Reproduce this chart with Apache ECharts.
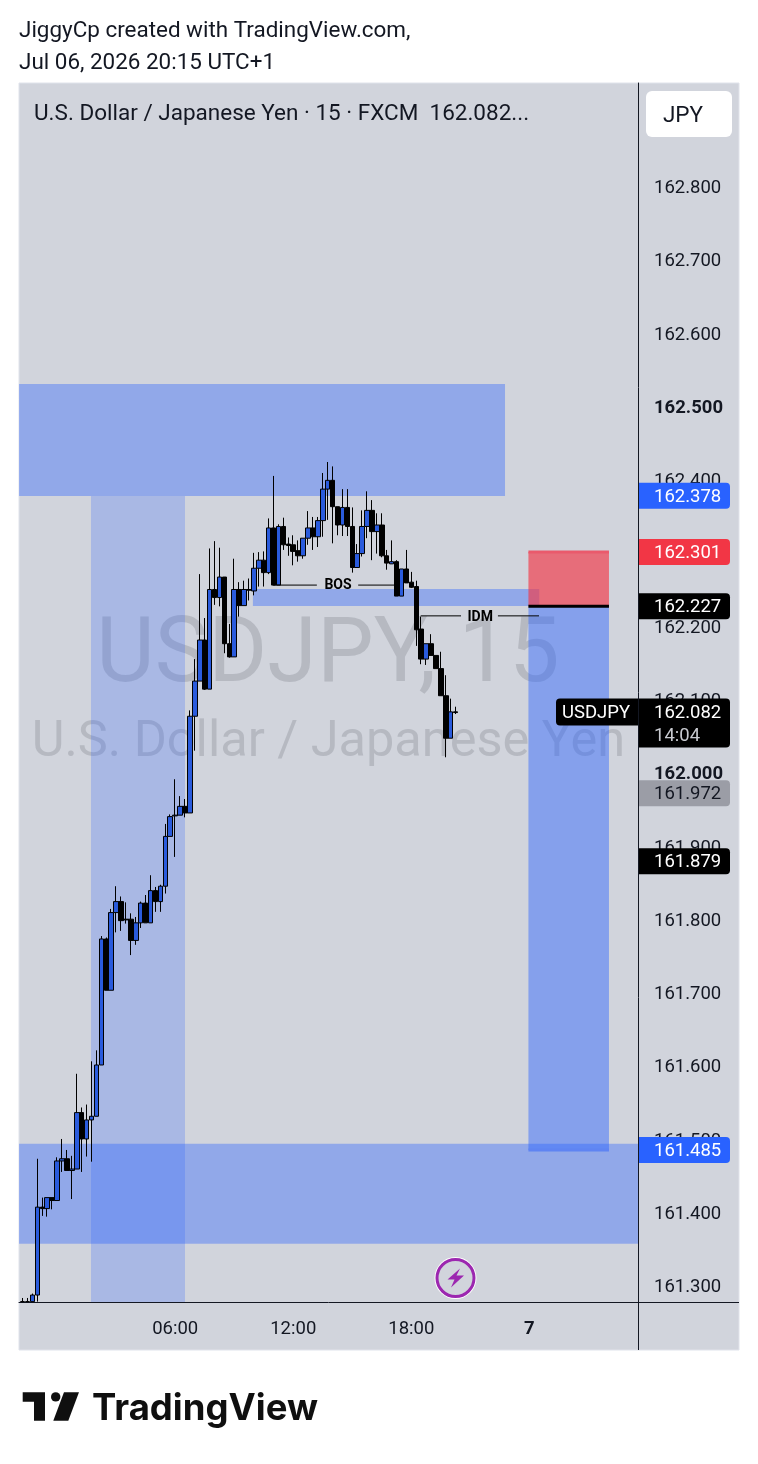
<!DOCTYPE html>
<html><head><meta charset="utf-8">
<style>html,body{margin:0;padding:0;background:#fff}#c{width:758px;height:1464px}</style>
<script src="https://cdn.jsdelivr.net/npm/echarts@6/dist/echarts.min.js"></script></head>
<body><div id="c"></div>
<script>
// bars: 15-minute slots counted from 00:00 of the session (t), first bar is t = -7
const firstBar = -7;
const opens = [161.278,161.278,161.278,161.287,161.407,161.405,161.42,161.416,161.47,161.473,161.457,161.459,161.536,161.5,161.526,161.531,161.601,161.773,161.703,161.809,161.824,161.8,161.8,161.771,161.795,161.822,161.795,161.839,161.824,161.845,161.913,161.941,161.942,161.954,161.945,162.077,162.125,162.181,162.114,162.25,162.239,162.267,162.176,162.158,162.25,162.228,162.25,162.248,162.279,162.29,162.273,162.334,162.256,162.336,162.312,162.311,162.303,162.296,162.32,162.334,162.322,162.344,162.387,162.399,162.363,162.338,162.362,162.336,162.28,162.299,162.336,162.358,162.329,162.338,162.296,162.285,162.288,162.241,162.278,162.26,162.254,162.196,162.155,162.176,162.16,162.142,162.105,162.047,162.083];
const closes = [161.278,161.278,161.287,161.407,161.405,161.42,161.416,161.47,161.473,161.457,161.459,161.536,161.5,161.526,161.531,161.601,161.773,161.703,161.809,161.824,161.798,161.799,161.771,161.795,161.822,161.795,161.839,161.824,161.845,161.913,161.94,161.942,161.954,161.945,162.077,162.125,162.181,162.114,162.25,162.239,162.267,162.176,162.158,162.25,162.228,162.25,162.249,162.279,162.29,162.273,162.334,162.256,162.336,162.311,162.31,162.302,162.296,162.32,162.334,162.322,162.344,162.387,162.399,162.363,162.338,162.362,162.336,162.28,162.299,162.336,162.358,162.329,162.338,162.296,162.286,162.288,162.241,162.278,162.259,162.253,162.195,162.155,162.176,162.16,162.142,162.105,162.047,162.083,162.082];
const lows = [161.278,161.278,161.278,161.278,161.395,161.394,161.404,161.416,161.455,161.457,161.418,161.459,161.455,161.476,161.469,161.531,161.601,161.703,161.703,161.782,161.784,161.794,161.751,161.765,161.788,161.795,161.795,161.81,161.81,161.835,161.913,161.885,161.942,161.939,161.945,162.03,162.125,162.113,162.114,162.229,162.227,162.163,162.157,162.158,162.213,162.228,162.235,162.242,162.254,162.254,162.271,162.256,162.256,162.304,162.296,162.283,162.288,162.292,162.311,162.304,162.308,162.322,162.345,162.313,162.324,162.323,162.323,162.273,162.28,162.295,162.32,162.29,162.299,162.294,162.277,162.285,162.241,162.241,162.259,162.252,162.173,162.148,162.147,162.16,162.142,162.105,162.021,162.047,162.08];
const highs = [161.283,161.283,161.289,161.473,161.42,161.42,161.42,161.475,161.5,161.485,161.477,161.589,161.543,161.547,161.606,161.621,161.777,161.775,161.814,161.845,161.831,161.823,161.808,161.803,161.824,161.833,161.86,161.844,161.847,161.93,161.943,161.991,161.968,161.964,162.085,162.155,162.271,162.211,162.306,162.316,162.307,162.267,162.203,162.292,162.26,162.262,162.265,162.3,162.301,162.302,162.347,162.405,162.339,162.348,162.321,162.324,162.317,162.32,162.357,162.349,162.349,162.409,162.424,162.418,162.363,162.387,162.387,162.362,162.312,162.358,162.384,162.372,162.354,162.354,162.304,162.317,162.29,162.278,162.304,162.274,162.262,162.213,162.176,162.189,162.16,162.165,162.133,162.101,162.09];

const priceTicks = [161.3,161.4,161.5,161.6,161.7,161.8,161.9,162.0,162.1,162.2,162.3,162.4,162.5,162.6,162.7,162.8];
const boldPrices = [162.0,162.5];
const timeTicks = [24,48,72,96];
const timeLabels = ['06:00','12:00','18:00','7'];
const axisX = [-7.74,118.07];
const axisY = [161.2775,162.9413];

// zones: [t0, t1, priceLow, priceHigh]
const supplyZone = [-7.74,91.04,162.3776,162.5305];
const sessionBand = [6.89,26.0,161.2775,162.3776];
const demandZone = [-7.74,118.07,161.357,161.4935];
const idmZone = [39.8,98,162.2275,162.2507];
const riskBox = [95.8,112.17,162.227,162.301];
const rewardBox = [95.8,112.17,161.485,162.227];
const bosSegments = [[43.9,52.8,162.256],[61.2,68.5,162.256]];
const idmSegments = [[73.9,82.1,162.214],[89.6,97.95,162.214]];
const bosLabel = [57.1,162.257,'BOS'];
const idmLabel = [86,162.214,'IDM'];

const tagPrices = [162.378,162.301,162.227,161.972,161.879,161.485];
const lastPrice = 162.082;
const countdown = '14:04';

const BLUE='#2962ff', BG='#d1d4dc', INK='#131722';
const FONT='Roboto, sans-serif';
const bars = opens.map((o,i)=>[firstBar+i,o,closes[i],lows[i],highs[i]]);
const zoneItem=(z,color,op)=>[{xAxis:z[0],yAxis:z[3],itemStyle:{color,opacity:op}},{xAxis:z[1],yAxis:z[2]}];
const lineSeries=(x0,x1,y,color,width)=>({type:'line',data:[[x0,y],[x1,y]],showSymbol:false,symbol:'none',silent:true,z:4,clip:false,
  lineStyle:{color,width}});
const tagColor={162.378:[BLUE,'#fff'],162.301:['#f23645','#fff'],162.227:['#000','#fff'],161.972:['#9b9da6',INK],161.879:['#000','#fff'],161.485:[BLUE,'#fff']};
const tagItem=p=>({value:[axisX[1],p],label:{show:true,position:[1,-13],formatter:p.toFixed(3),color:tagColor[p][1],backgroundColor:tagColor[p][0],
  width:76,height:26,lineHeight:29,padding:[0,0,0,15],align:'left',verticalAlign:'top',fontFamily:FONT,fontSize:18.5,borderRadius:[0,4,4,0]}});

const chart=echarts.init(document.getElementById('c'),null,{renderer:'canvas'});
chart.setOption({
  animation:false,
  backgroundColor:'#fff',
  grid:{left:19,top:83,width:619,height:1219,containLabel:false},
  xAxis:{type:'value',min:axisX[0],max:axisX[1],splitLine:{show:false},axisTick:{show:false},
    axisLine:{show:true,lineStyle:{color:INK,width:1}},
    axisLabel:{customValues:timeTicks,margin:18,fontFamily:FONT,fontSize:18.5,color:INK,
      formatter:v=>{const s=timeLabels[timeTicks.indexOf(v)];return s==='7'?'{b|'+s+'}':s;},
      rich:{b:{fontWeight:'bold',fontFamily:FONT,fontSize:18.5,color:INK}}}},
  yAxis:{type:'value',position:'right',min:axisY[0],max:axisY[1],splitLine:{show:false},axisTick:{show:false},
    axisLine:{show:true,onZero:false,lineStyle:{color:INK,width:1}},
    axisLabel:{customValues:priceTicks,margin:16,fontFamily:FONT,fontSize:18.5,color:INK,align:'left',padding:[4,0,0,0],
      formatter:v=>{const s=v.toFixed(3);return boldPrices.includes(+v.toFixed(1))?'{b|'+s+'}':s;},
      rich:{b:{fontWeight:'bold',fontFamily:FONT,fontSize:18.5,color:INK}}}},
  graphic:{elements:[
    {type:'rect',z:-3,shape:{x:19,y:83,width:720,height:1267},style:{fill:BG,stroke:'#e0e3eb',lineWidth:1}},
    {type:'text',z:-2,style:{x:328,y:658,text:'USDJPY, 15',align:'center',verticalAlign:'middle',font:'90px '+FONT,fill:'rgba(120,123,134,0.3)'}},
    {type:'text',z:-2,style:{x:328.5,y:743,text:'U.S. Dollar / Japanese Yen',align:'center',verticalAlign:'middle',font:'50.5px '+FONT,fill:'rgba(120,123,134,0.3)'}},
    {type:'text',z:10,style:{x:19,y:31,text:'JiggyCp created with TradingView.com,',verticalAlign:'middle',font:'22.45px '+FONT,fill:INK}},
    {type:'text',z:10,style:{x:19,y:63,text:'Jul 06, 2026 20:15 UTC+1',verticalAlign:'middle',font:'22.45px '+FONT,fill:INK}},
    {type:'text',z:10,style:{x:34,y:114,text:'U.S. Dollar / Japanese Yen · 15 · FXCM  162.082...',verticalAlign:'middle',font:'22.5px '+FONT,fill:INK}},
    {type:'rect',z:10,shape:{x:646,y:91,width:86,height:46,r:6},style:{fill:'#fff'}},
    {type:'text',z:11,style:{x:683,y:116,text:'JPY',align:'center',verticalAlign:'middle',font:'22.5px '+FONT,fill:INK}},
    {type:'line',z:5,shape:{x1:638.5,y1:1302,x2:638.5,y2:1350},style:{stroke:INK,lineWidth:1}},
    {type:'line',z:5,shape:{x1:638,y1:1302.5,x2:739,y2:1302.5},style:{stroke:INK,lineWidth:1}},
    {type:'circle',z:10,shape:{cx:455.5,cy:1278,r:21},style:{fill:'#fff'}},
    {type:'circle',z:11,shape:{cx:455.5,cy:1278,r:18.5},style:{fill:BG,stroke:'#9c27b0',lineWidth:3}},
    {type:'polygon',z:12,shape:{points:[[460,1268.5],[447.5,1279.5],[454.5,1279.5],[451,1287.5],[464,1275.5],[456.5,1275.5]]},style:{fill:'#9c27b0'}},
    {type:'polygon',z:10,shape:{points:[[22.7,1392.3],[45,1392.3],[45,1420.7],[34,1420.7],[34,1401.7],[22.7,1401.7]]},style:{fill:'#0f0f0f'}},
    {type:'circle',z:10,shape:{cx:55.7,cy:1396.9,r:4.7},style:{fill:'#0f0f0f'}},
    {type:'polygon',z:10,shape:{points:[[64,1392.3],[79,1392.3],[68.3,1420.7],[53.3,1420.7]]},style:{fill:'#0f0f0f'}},
    {type:'text',z:10,style:{x:92,y:1409,text:'TradingView',verticalAlign:'middle',font:'700 36.5px Inter, sans-serif',fill:'#0f0f0f'}}
  ]},
  series:[
    {type:'candlestick',data:bars,barWidth:5,z:2,silent:true,
      itemStyle:{color:'#2a5bdc',color0:'#000',borderColor:'#000',borderColor0:'#000',borderWidth:1},
      markArea:{silent:true,data:[
        zoneItem(sessionBand,BLUE,0.24),
        zoneItem(supplyZone,BLUE,0.38),
        zoneItem(demandZone,BLUE,0.38),
        zoneItem(idmZone,BLUE,0.38),
        zoneItem(riskBox,'#f23645',0.65),
        zoneItem(rewardBox,BLUE,0.45)
      ]}},
    lineSeries(riskBox[0],riskBox[1],riskBox[3],'#ea5a6c',3),
    lineSeries(rewardBox[0],rewardBox[1],rewardBox[2],'#5f84f2',3),
    lineSeries(riskBox[0],riskBox[1],riskBox[2],'#000',3),
    ...bosSegments.concat(idmSegments).map(s=>lineSeries(s[0],s[1],s[2],'#000',1)),
    {type:'scatter',symbolSize:0,silent:true,z:6,clip:false,itemStyle:{opacity:1},data:[bosLabel,idmLabel].map((m,i)=>({value:[m[0],m[1]],
      label:{show:true,position:'inside',offset:[0,i+1],formatter:m[2],fontFamily:FONT,fontWeight:'bold',fontSize:14,color:'#000'}}))},
    {type:'scatter',symbolSize:0,silent:true,z:8,clip:false,itemStyle:{opacity:1},data:[
      ...tagPrices.map(tagItem),
      {value:[axisX[1],lastPrice],label:{show:true,position:[1,-14],align:'left',verticalAlign:'top',backgroundColor:'#000',width:76,height:49,padding:[0,0,0,15],
        borderRadius:[0,4,4,0],fontFamily:FONT,formatter:'{p|'+lastPrice.toFixed(3)+'}\n{t|'+countdown+'}',
        rich:{p:{color:'#fff',fontSize:18.5,fontFamily:FONT,lineHeight:29},t:{color:'#c8cad0',fontSize:18.5,fontFamily:FONT,lineHeight:18}}}},
      {value:[axisX[1],lastPrice],label:{show:true,position:[-82,-14],align:'left',verticalAlign:'top',backgroundColor:'#000',color:'#fff',width:76,height:27,lineHeight:30,padding:[0,0,0,6],
        borderRadius:[4,0,0,4],fontFamily:FONT,fontSize:18.5,formatter:'USDJPY'}}
    ]}
  ]
});
</script></body></html>
